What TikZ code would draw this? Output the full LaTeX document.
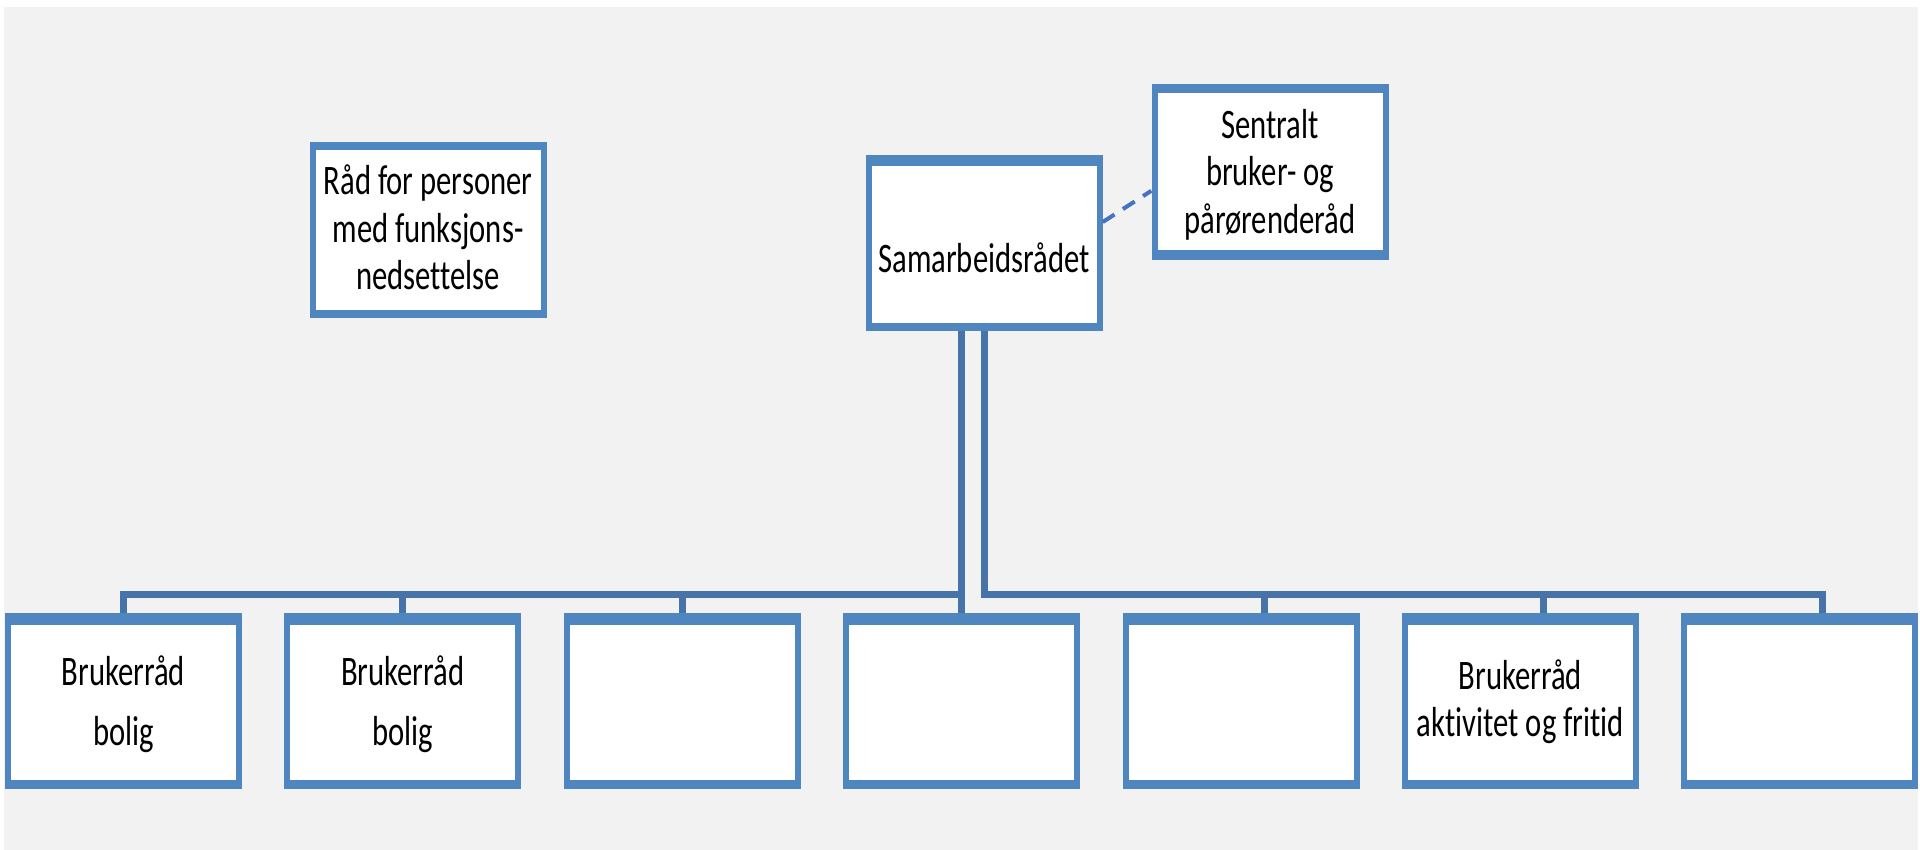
\documentclass[tikz,border=0pt]{standalone}
\usepackage{fontspec}
\newfontfamily\boxfont[FakeStretch=0.73,Ligatures=NoCommon]{Carlito}
\definecolor{bggrey}{HTML}{F2F2F2}
\definecolor{boxblue}{HTML}{4F86C0}
\definecolor{linkblue}{HTML}{4674A8}
\definecolor{dashblue}{HTML}{4472C4}
\tikzset{
  orgbox/.style 2 args={rectangle, inner sep=0pt, minimum width=237pt, minimum height=176pt,
    fill=boxblue,
    path picture={\fill[white] ([xshift=6pt,yshift=-#1pt]path picture bounding box.north west)
      rectangle ([xshift=-6pt,yshift=#2pt]path picture bounding box.south east);}},
  txt/.style={inner sep=0pt, align=center, font=\boxfont\fontsize{42}{47.5}\selectfont, text=black},
  link/.style={draw=linkblue, line width=7pt, line join=miter},
  dashlink/.style={draw=dashblue, line width=4pt, dash pattern=on 14pt off 10pt},
}
\begin{document}
\begin{tikzpicture}[x=1pt,y=-1pt]
\useasboundingbox (0,0) rectangle (1920,850);
\fill[white] (0,0) rectangle (1920,850);
\fill[bggrey] (4,7) rectangle (1918,850);
\coordinate (hbar) at (0,594);
% top boxes
\node[orgbox={8}{8}] (rad) at (428,230) {};
\node[orgbox={11}{8}] (samar) at (984,243) {};
\node[orgbox={9}{10}] (sent) at (1270,172) {};
% bottom boxes
\foreach \i in {1,...,7}{
  \node[orgbox={11.5}{9}] (b\i) at ({123.4+279.4*(\i-1)},701) {};
}
% connectors
\draw[link] (b4.north |- samar.south) -- (b4.north);
\draw[link] (b1.north) |- (b4.north |- hbar);
\draw[link] (b2.north) -- (b2.north |- hbar);
\draw[link] (b3.north) -- (b3.north |- hbar);
\draw[link] (samar.south) |- ([xshift=23pt]b7.north |- hbar) -- ([xshift=23pt]b7.north);
\draw[link] ([xshift=23pt]b5.north) -- ([xshift=23pt]b5.north |- hbar);
\draw[link] ([xshift=23pt]b6.north) -- ([xshift=23pt]b6.north |- hbar);
\draw[dashlink] (samar.10) -- (sent.189);
% texts (base anchor = baseline of the last line)
\node[txt, anchor=base] (trad) at (428,290) {Råd for personer\\med funksjons-\\nedsettelse};
\node[txt, anchor=base] (tsamar) at (984,273) {Samarbeidsrådet};
\node[txt, anchor=base] (tsent) at (1270,233.3) {Sentralt\\bruker- og\\pårørenderåd};
\node[txt, anchor=base] (tb1) at (123.4,745.7) {Brukerråd\\[12.5pt]bolig};
\node[txt, anchor=base] (tb2) at (402.8,745.7) {Brukerråd\\[12.5pt]bolig};
\node[txt, anchor=base] (tb6) at (1520.4,736.7) {Brukerråd\\aktivitet og fritid};
\end{tikzpicture}
\end{document}
